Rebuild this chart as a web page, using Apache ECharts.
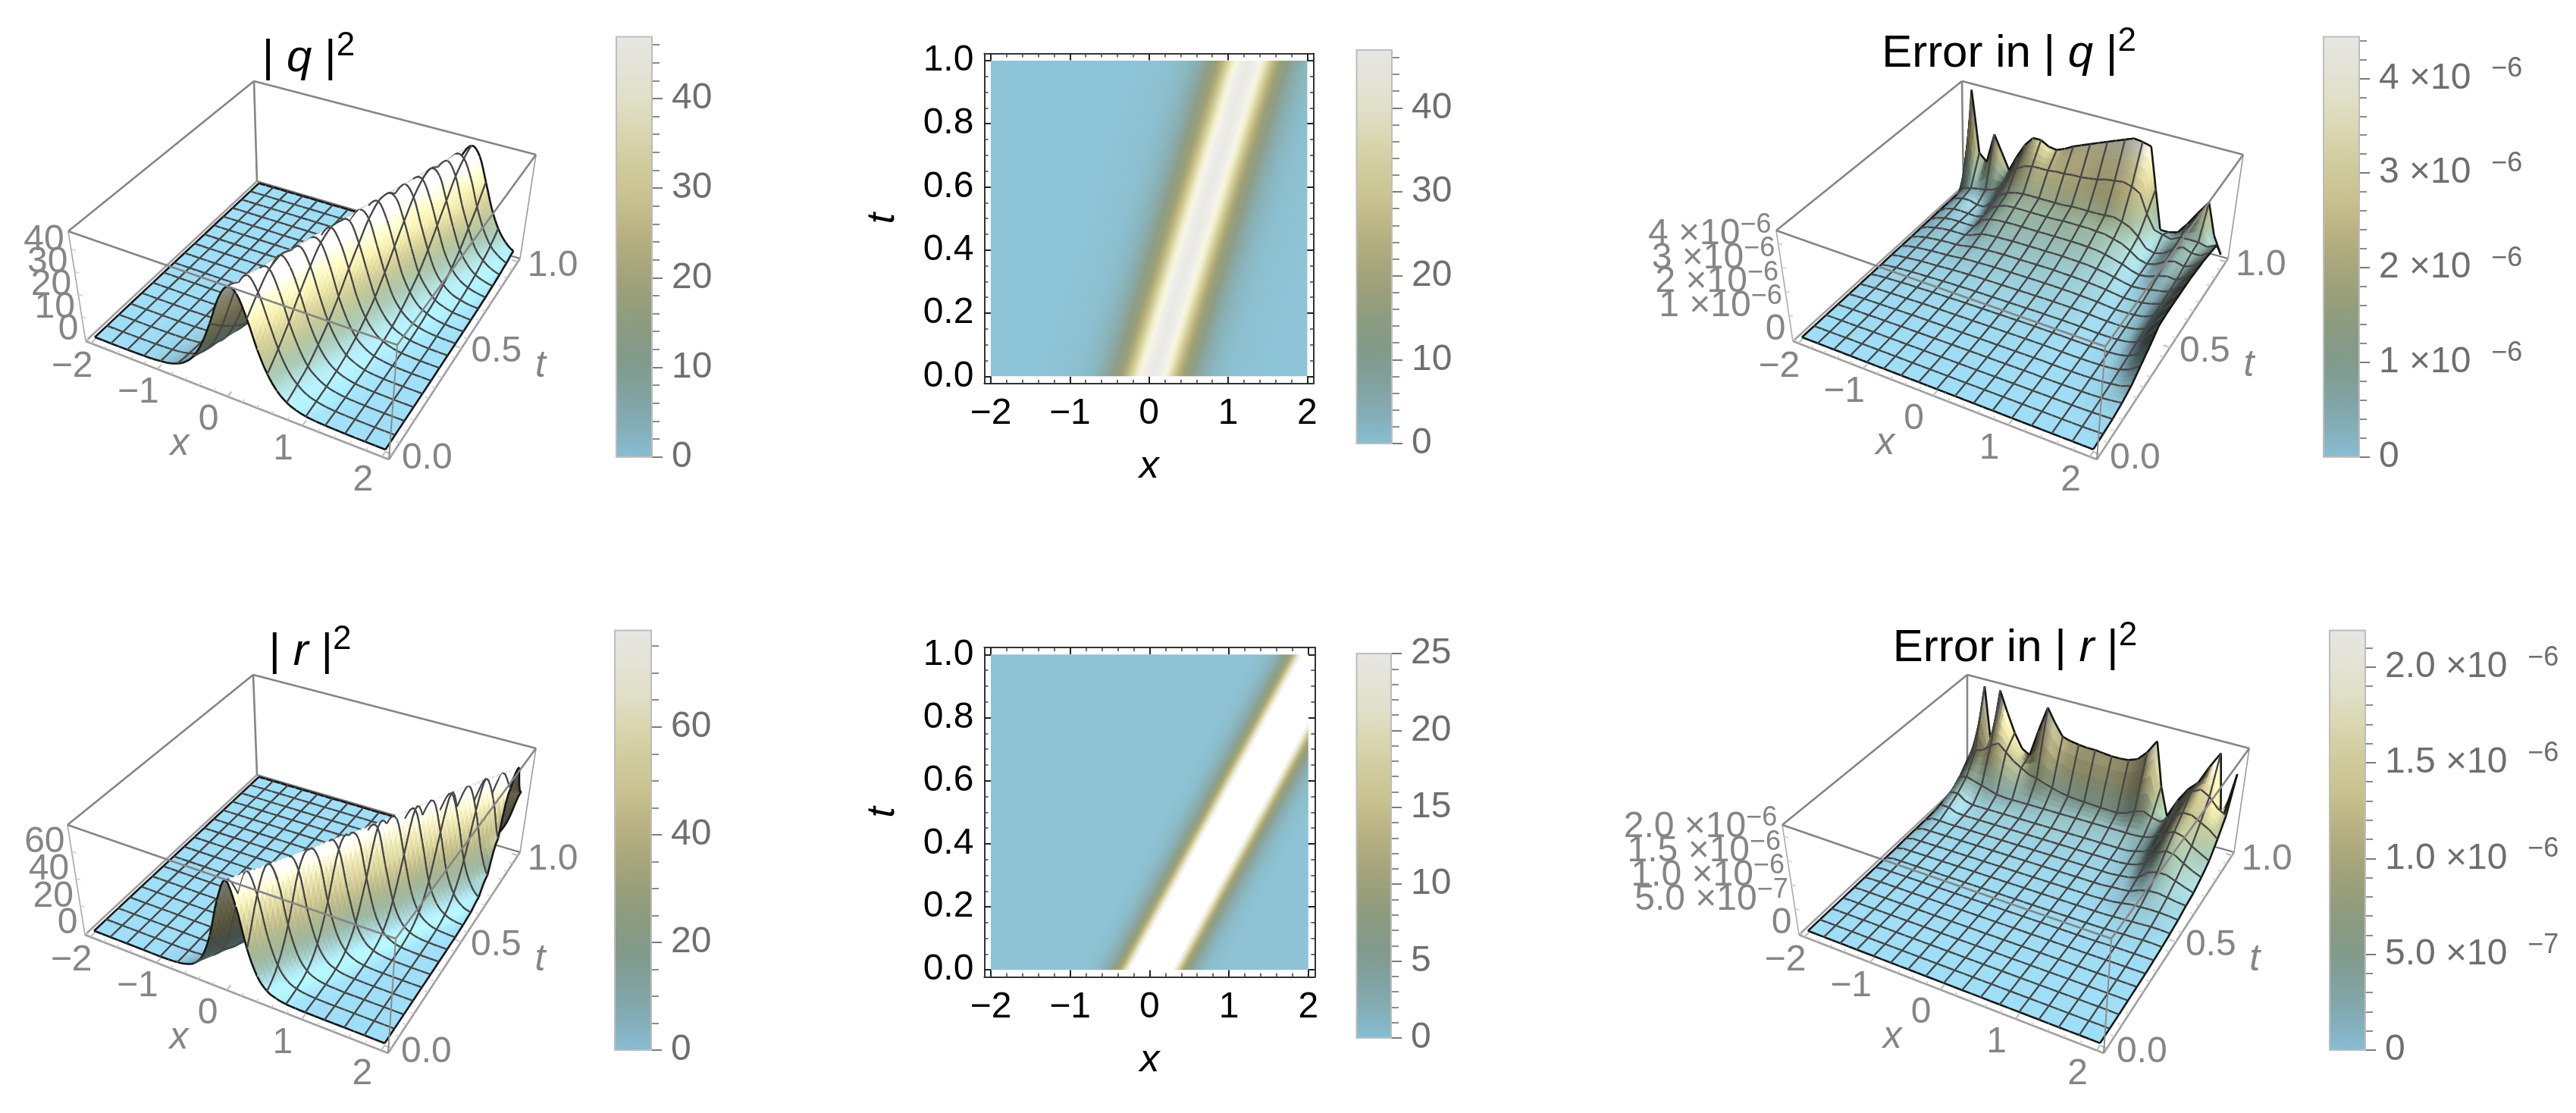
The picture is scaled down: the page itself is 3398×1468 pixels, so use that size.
<!DOCTYPE html>
<html>
<head>
<meta charset="utf-8">
<title>Soliton solutions and errors</title>
<script src="https://cdn.jsdelivr.net/npm/echarts@6/dist/echarts.min.js"></script>
<style>
  html, body { margin: 0; padding: 0; background: #fff; }
  #chart { width: 3398px; height: 1468px; }
</style>
</head>
<body>
<div id="chart"></div>
<script>
// sample positions of the surfaces
const xGrid = [-2,-1.875,-1.75,-1.625,-1.5,-1.375,-1.25,-1.125,-1,-.875,-.75,-.625,-.5,-.375,-.25,-.125,0,.125,.25,.375,.5,.625,.75,.875,1,1.125,1.25,1.375,1.5,1.625,1.75,1.875,2];
const tGrid = [0,.0625,.125,.1875,.25,.3125,.375,.4375,.5,.5625,.625,.6875,.75,.8125,.875,.9375,1];

// |q|^2, one row per t
const qSurface = [
  [0,0,0,0,.04,.1,.2,.35,.7,1.3,2.6,4.9,9,16,26,38,45,43.5,34,22,13,7.2,3.8,2,1,.55,.3,.18,.08,0,0,0,0],
  [0,0,0,0,0,.07,.13,.27,.47,.85,1.7,3.3,6.2,11.4,19.7,31,41.6,46,40,29,18.3,10.5,5.8,3,1.6,.8,.42,.24,.13,.06,0,0,0],
  [0,0,0,0,0,0,.09,.17,.32,.6,1.1,2.2,4.3,7.8,14.3,23.7,35.6,44,45,36.5,24.5,15,8.1,4.5,2.3,1.2,.62,.34,.19,.09,.03,0,0],
  [0,0,0,0,0,0,.05,.11,.22,.42,.75,1.5,2.9,5.6,10,17.8,28,39.5,46,42,32,20.5,12,6.5,3.4,1.8,.9,.48,.27,.15,.07,.02,0],
  [0,0,0,0,0,0,0,.07,.15,.28,.5,1,1.9,3.6,7,12.6,21.4,33,43,45.7,38.6,27,16.7,9.6,5,2.7,1.3,.7,.37,.21,.1,.05,0],
  [0,0,0,0,0,0,0,0,.1,.2,.37,.65,1.3,2.4,4.7,8.5,15.6,25.4,37,45,44,34.8,22.8,13.7,7.4,4,2,1.1,.56,.3,.16,.08,.02],
  [0,0,0,0,0,0,0,0,.06,.14,.25,.46,.8,1.7,3.1,6.1,10.9,19.4,30,41.2,46,40.5,30,18.6,10.9,5.9,3.1,1.6,.8,.45,.25,.13,.06],
  [0,0,0,0,0,0,0,0,0,.08,.17,.3,.6,1.1,2.2,4,7.9,13.7,23.6,34.8,44,45,36.5,25.4,15,8.5,4.5,2.4,1.2,.65,.34,.2,.09],
  [0,0,0,0,0,0,0,0,0,0,.11,.21,.4,.7,1.4,2.7,5.2,9.5,17,27,39,45.7,42.8,32,21,12,6.7,3.4,1.8,.9,.5,.26,.15],
  [0,0,0,0,0,0,0,0,0,0,0,.15,.26,.5,.9,1.8,3.4,6.7,12,21,32,42.8,46,39,28,17,9.9,5.2,2.9,1.4,.75,.4,.22],
  [0,0,0,0,0,0,0,0,0,0,0,0,.2,.34,.65,1.2,2.4,4.5,8.5,15,25.4,36.5,45,44,34.8,23.6,13.7,7.9,4,2.2,1.1,.6,.3],
  [0,0,0,0,0,0,0,0,0,0,0,0,0,.25,.45,.8,1.6,3.1,5.9,10.9,18.6,30,40.5,46,41.2,30,19.4,10.9,6.1,3.1,1.7,.8,.46],
  [0,0,0,0,0,0,0,0,0,0,0,0,0,0,.3,.56,1.1,2,4,7.4,13.4,22.8,34.8,44,45,37,26,15.6,8.8,4.7,2.5,1.3,.65],
  [0,0,0,0,0,0,0,0,0,0,0,0,0,0,0,.36,.7,1.3,2.7,5,9.5,16.5,27,38,45.7,43.5,33,22,12.6,7,3.6,1.9,1],
  [0,0,0,0,0,0,0,0,0,0,0,0,0,0,0,.26,.47,.9,1.8,3.4,6.4,12,20,32,42,46,40,28,18,9.9,5.6,2.9,1.5],
  [0,0,0,0,0,0,0,0,0,0,0,0,0,0,0,0,.34,.62,1.2,2.3,4.5,8.1,15,24.5,36.5,45,44,35.6,23.7,14.3,7.8,4.3,2.2],
  [0,0,0,0,0,0,0,0,0,0,0,0,0,0,0,0,.24,.45,.8,1.6,3,5.8,10.5,18,29,40,46,42,31,19.7,11.4,6.2,3.3]
];

// |r|^2
const rSurface = [
  [0,0,0,0,0,0,0,0,0,.2,.6,1.9,4.8,12.6,30,58,75,58,30,12.6,4.8,1.9,.6,.2,0,0,0,0,0,0,0,0,0],
  [0,0,0,0,0,0,0,0,0,0,.2,.5,1.6,4.4,11.6,28,56,75,60,32,14,5.3,2,.7,.2,0,0,0,0,0,0,0,0],
  [0,0,0,0,0,0,0,0,0,0,0,.15,.5,1.4,4,11,26,53,74,63,34,14.6,5.6,2.1,.7,.25,0,0,0,0,0,0,0],
  [0,0,0,0,0,0,0,0,0,0,0,0,.15,.45,1.3,3.6,10,24,50,73,65,36,16,6,2.4,.8,.3,.1,0,0,0,0,0],
  [0,0,0,0,0,0,0,0,0,0,0,0,0,.15,.4,1.2,3.4,9,23,48,72,67,38,17,6.6,2.5,.85,.3,.1,0,0,0,0],
  [0,0,0,0,0,0,0,0,0,0,0,0,0,0,.15,.4,1.1,3.1,8.4,21.5,45,72,68,41,18.5,7.2,2.7,.95,.35,.12,0,0,0],
  [0,0,0,0,0,0,0,0,0,0,0,0,0,0,0,.12,.35,1,2.9,7.6,20,43,70,70,43,20,7.8,2.9,1,.37,.12,0,0],
  [0,0,0,0,0,0,0,0,0,0,0,0,0,0,0,0,.12,.33,.9,2.6,7,18,40,68,72,46,22,8.6,3.2,1.1,.4,.13,.05],
  [0,0,0,0,0,0,0,0,0,0,0,0,0,0,0,0,0,.1,.28,.8,2.4,6.5,17,38,67,73,48,23,9.3,3.5,1.2,.42,.15],
  [0,0,0,0,0,0,0,0,0,0,0,0,0,0,0,0,0,0,.1,.25,.75,2.2,6,15.6,36,65,74,51,24,10,3.8,1.3,.48],
  [0,0,0,0,0,0,0,0,0,0,0,0,0,0,0,0,0,0,0,.1,.22,.7,2,5.6,14.4,34,62,75,53,26,11,4,1.5],
  [0,0,0,0,0,0,0,0,0,0,0,0,0,0,0,0,0,0,0,0,.1,.2,.65,1.9,5.1,13,31,60,75,56,28,12,4.5],
  [0,0,0,0,0,0,0,0,0,0,0,0,0,0,0,0,0,0,0,0,0,.1,.18,.6,1.7,4.7,12.4,30,57,75,58,30,13],
  [0,0,0,0,0,0,0,0,0,0,0,0,0,0,0,0,0,0,0,0,0,0,.1,.16,.55,1.5,4.3,11.5,28,55,75,61,33],
  [0,0,0,0,0,0,0,0,0,0,0,0,0,0,0,0,0,0,0,0,0,0,0,.1,.15,.5,1.4,4,10.7,26,52,74,64],
  [0,0,0,0,0,0,0,0,0,0,0,0,0,0,0,0,0,0,0,0,0,0,0,0,.05,.14,.45,1.3,3.6,9.8,24,50,73],
  [0,0,0,0,0,0,0,0,0,0,0,0,0,0,0,0,0,0,0,0,0,0,0,0,0,.05,.13,.4,1.2,3.3,9,22,47]
];

// how far the ridge moves in x from one row to the next
const qRidgeStep = .07625;
const rRidgeStep = .1356;

// error in |q|^2, in units of 1e-6
const qError = [
  [0,0,0,0,0,0,0,0,0,0,0,0,0,0,0,0,0,0,0,0,0,0,0,0,0,0,0,0,0,0,0,0,0],
  [0,0,0,0,.01,.01,.01,.01,.01,.01,.01,.01,.01,.01,.01,.01,.01,.01,.01,.01,.01,.01,.01,.01,.01,.01,.01,.01,.01,.01,.01,.02,.03],
  [0,.01,.01,.01,.01,.02,.02,.02,.02,.02,.02,.02,.02,.02,.02,.02,.02,.02,.02,.02,.02,.02,.02,.02,.02,.02,.02,.02,.02,.02,.03,.04,.06],
  [0,.01,.02,.02,.02,.03,.03,.03,.04,.04,.04,.04,.04,.04,.04,.04,.04,.04,.04,.04,.04,.04,.04,.04,.03,.03,.03,.03,.03,.04,.06,.1,.15],
  [0,.02,.03,.03,.04,.04,.05,.05,.06,.06,.06,.06,.06,.06,.06,.06,.06,.06,.06,.06,.06,.06,.06,.06,.05,.04,.04,.04,.05,.06,.1,.15,.3],
  [0,.03,.04,.05,.06,.07,.07,.08,.09,.09,.09,.09,.09,.09,.09,.09,.09,.09,.09,.09,.09,.09,.09,.08,.07,.06,.06,.06,.07,.09,.15,.3,.6],
  [0,.04,.06,.07,.09,.1,.1,.11,.12,.12,.12,.13,.13,.13,.13,.13,.13,.13,.13,.13,.13,.12,.12,.11,.1,.09,.08,.08,.09,.12,.2,.45,.9],
  [0,.05,.08,.1,.12,.13,.14,.15,.16,.17,.17,.18,.18,.18,.18,.18,.18,.18,.18,.18,.18,.17,.17,.16,.15,.13,.11,.11,.12,.16,.27,.7,1.25],
  [.01,.07,.1,.13,.16,.17,.18,.2,.22,.23,.24,.25,.25,.25,.25,.25,.25,.25,.25,.25,.25,.24,.23,.22,.2,.17,.15,.14,.15,.2,.35,.8,1.3],
  [.01,.09,.14,.17,.2,.22,.23,.26,.3,.32,.33,.34,.35,.35,.35,.35,.35,.35,.35,.34,.33,.32,.3,.28,.26,.22,.18,.18,.2,.25,.42,.85,1.3],
  [.01,.12,.18,.22,.25,.27,.28,.32,.4,.43,.45,.47,.48,.48,.48,.48,.48,.48,.48,.46,.45,.43,.4,.37,.33,.27,.22,.22,.25,.32,.45,.85,1.3],
  [.02,.15,.22,.27,.3,.3,.3,.4,.55,.6,.62,.63,.65,.65,.65,.65,.65,.65,.65,.63,.62,.6,.55,.5,.42,.33,.26,.28,.35,.42,.5,.85,1.3],
  [.02,.18,.26,.3,.3,.28,.3,.65,.8,.85,.87,.88,.88,.88,.88,.88,.88,.88,.88,.87,.85,.82,.75,.65,.55,.4,.3,.35,.5,.6,.55,.85,1.25],
  [.03,.22,.3,.3,.28,.25,.35,.8,1,1.1,1.12,1.12,1.12,1.12,1.12,1.12,1.15,1.15,1.15,1.15,1.12,1.1,1,.9,.7,.45,.35,.45,.7,.8,.7,.85,1.2],
  [.03,.3,.4,.4,.3,.3,.6,1,1.2,1.3,1.35,1.35,1.35,1.35,1.35,1.35,1.4,1.4,1.4,1.4,1.42,1.45,1.35,1.2,.9,.5,.4,.5,.8,1,.85,.85,1.1],
  [.03,.4,.5,.55,.6,.7,.9,1.5,1.9,2.1,2.2,2.2,2.2,2.25,2.25,2.3,2.3,2.35,2.4,2.5,2.55,2.6,2.5,2.3,1.5,.9,.8,.7,.9,.9,.9,.8,1],
  [.05,4.4,1.7,1.4,2.7,2,1.3,2,2.6,3,3,2.8,2.75,2.9,3.1,3.25,3.4,3.55,3.7,3.85,4,4.15,4.1,4,2.2,.5,.5,.6,1.1,1.7,2.25,.9,.15]
];

// error in |r|^2, in units of 1e-6
const rError = [
  [0,0,0,0,0,0,0,0,0,0,0,0,0,0,0,0,0,0,0,0,0,0,0,0,0,0,0,0,0,0,0,0,0],
  [0,0,0,0,0,0,0,0,0,0,0,0,0,0,0,0,0,0,0,0,0,0,0,0,0,0,0,0,0,0,0,0,0],
  [0,.005,.005,.005,.005,.005,.005,.005,.005,.005,.005,.005,.005,.005,.005,.005,.005,.005,.005,.005,.005,.005,.005,.005,.005,.005,.005,.005,.005,.005,.005,.005,0],
  [0,.005,.005,.005,.005,.005,.005,.005,.005,.005,.005,.005,.005,.005,.005,.005,.005,.005,.005,.005,.005,.005,.005,.005,.005,.005,.005,.005,.005,.005,.005,.005,.005],
  [0,.01,.01,.01,.01,.01,.01,.01,.01,.01,.01,.01,.01,.01,.01,.01,.01,.01,.01,.01,.01,.01,.01,.01,.01,.01,.01,.01,.01,.01,.01,.01,.01],
  [0,.01,.015,.015,.015,.015,.015,.015,.015,.015,.015,.015,.015,.015,.015,.015,.015,.015,.015,.015,.015,.015,.015,.015,.015,.015,.015,.015,.015,.015,.015,.015,.015],
  [0,.02,.02,.02,.02,.02,.02,.02,.02,.02,.02,.02,.02,.02,.02,.02,.02,.02,.02,.02,.02,.02,.02,.02,.02,.02,.02,.025,.03,.03,.03,.03,.03],
  [0,.03,.03,.03,.03,.03,.03,.03,.03,.03,.03,.03,.03,.03,.03,.03,.03,.03,.03,.03,.03,.03,.03,.03,.03,.03,.035,.04,.05,.05,.06,.06,.05],
  [0,.04,.04,.04,.04,.04,.04,.04,.04,.04,.04,.04,.04,.04,.04,.04,.04,.04,.04,.04,.04,.04,.04,.04,.04,.04,.05,.06,.07,.08,.09,.09,.08],
  [.01,.05,.05,.05,.05,.05,.05,.05,.05,.05,.05,.05,.05,.05,.05,.05,.05,.05,.05,.05,.05,.05,.05,.05,.06,.07,.1,.13,.14,.15,.15,.14,.12],
  [.01,.07,.07,.07,.07,.07,.07,.07,.07,.07,.07,.07,.07,.07,.07,.07,.07,.07,.07,.07,.07,.07,.07,.07,.09,.1,.12,.2,.25,.26,.23,.2,.18],
  [.01,.1,.1,.09,.09,.09,.09,.09,.09,.09,.09,.09,.09,.09,.09,.09,.09,.09,.09,.09,.09,.09,.09,.09,.11,.13,.18,.35,.42,.42,.35,.28,.22],
  [.02,.2,.2,.13,.12,.12,.12,.12,.12,.12,.12,.12,.12,.12,.12,.12,.12,.12,.12,.12,.12,.12,.12,.12,.14,.18,.28,.55,.65,.62,.5,.4,.32],
  [.05,.3,.32,.2,.16,.16,.16,.16,.16,.16,.16,.16,.16,.16,.16,.16,.16,.16,.16,.16,.16,.16,.16,.16,.2,.25,.4,.75,.85,.8,.65,.55,.45],
  [.08,.45,.5,.45,.4,.35,.3,.28,.28,.28,.28,.28,.28,.28,.28,.28,.28,.28,.28,.28,.28,.28,.28,.28,.3,.35,.5,.9,1.05,1.05,.95,.85,.7],
  [.1,.7,.9,.96,1.1,1.2,1.05,.9,.8,.7,.66,.6,.55,.5,.47,.45,.44,.43,.42,.41,.41,.45,.55,.6,.52,.48,.6,1,1.3,1.4,1.3,1.1,1],
  [.05,.9,2.15,.8,2.15,1.7,1.3,1,.9,1.5,2.05,1.75,1.5,1.45,1.42,1.4,1.4,1.38,1.36,1.36,1.38,1.45,1.65,1.95,1,.4,.8,1.1,1.3,1.7,2.05,.55,1.7]
];

// density plots: value against distance from the ridge centre
const qHeatOffsets = [-1.6,-1.3,-1,-.9,-.8,-.7,-.6,-.55,-.5,-.45,-.4,-.35,-.3,-.25,-.2,-.15,-.1,-.05,0,.05,.1,.15,.2,.25,.3,.35,.4,.45,.5,.55,.6,.7,.8,.9,1,1.3,1.6];
const qHeatValues = [0,.2,.8,1.4,2.4,4,6.7,8.5,10.9,13.7,17,21,25.4,30,34.8,39,42.8,45,46,45,42.8,39,34.8,30,25.4,21,17,13.7,10.9,8.5,6.7,4,2.4,1.4,.8,.2,0];
const qHeatCentre = [.04, 1.26]; // ridge centre at t = 0 and t = 1
const rHeatOffsets = [-1,-.9,-.75,-.7,-.65,-.6,-.55,-.5,-.45,-.4,-.35,-.3,-.285,-.28,.28,.285,.3,.35,.4,.45,.5,.55,.6,.65,.7,.75,.9,1];
const rHeatValues = [.1,.15,.6,.9,1.4,2.2,3.2,4.8,7,10.5,15,22,25,26,26,25,22,15,10.5,7,4.8,3.2,2.2,1.4,.9,.6,.15,.1];
const rHeatCentre = [.02, 2.19];

// colour scales, low to high
const barColors = ['#88bed3','#83adb6','#81a29f','#819a8b','#8a9b80','#9a9f7a','#a9a77c','#b9b383','#c8c290','#d0cb9c','#d9d6af','#e0dfc7','#e4e3d6','#e6e6e4'];
const heatColors = ['#8dc4d7','#89b3ba','#8aa7a0','#8c9d88','#94a07e','#9f9f70','#b1ad7c','#c3bd85','#d4cf9a','#e6e2b8','#f4f2d4','#f8f7e6','#efeeea','#e7e7e5'];

// tick values
const xTicks = [-2,-1,0,1,2];
const tTicks3d = [0,.5,1];
const tTicksHeat = [0,.2,.4,.6,.8,1];
const xMinorTicks = [-1.8,-1.6,-1.4,-1.2,-.8,-.6,-.4,-.2,.2,.4,.6,.8,1.2,1.4,1.6,1.8];
const tMinorTicks = [.05,.1,.15,.25,.3,.35,.45,.5,.55,.65,.7,.75,.85,.9,.95];
const qTicks = [0,10,20,30,40];
const qMinor = [2,4,6,8,12,14,16,18,22,24,26,28,32,34,36,38,42,44,46];
const rTicks = [0,20,40,60];
const rMinor = [5,10,15,25,30,35,45,50,55,65,70,75];
const qHeatTicks = [0,10,20,30,40];
const rHeatTicks = [0,5,10,15,20,25];
const rHeatMinor = [1,2,3,4,6,7,8,9,11,12,13,14,16,17,18,19,21,22,23,24];
const qErrTicks = [0,1,2,3,4];
const qErrMinor = [.2,.4,.6,.8,1.2,1.4,1.6,1.8,2.2,2.4,2.6,2.8,3.2,3.4,3.6,3.8,4.2,4.4];
const rErrTicks = [0,.5,1,1.5,2];
const rErrMinor = [.1,.2,.3,.4,.6,.7,.8,.9,1.1,1.2,1.3,1.4,1.6,1.7,1.8,1.9,2.1];
const qErrText = ['0','1 ×10','2 ×10','3 ×10','4 ×10'];
const qErrExp = ['','−6','−6','−6','−6'];
const rErrText = ['0','5.0 ×10','1.0 ×10','1.5 ×10','2.0 ×10'];
const rErrExp = ['','−7','−6','−6','−6'];

const FONT = '"Liberation Sans", Arial, sans-serif';
const GREY = '#858585';
const LABEL_GREY = '#6e6e6e';

function plainLabel(v) {
  return String(v);
}
function errRich(text, exp, gap) {
  return exp ? '{b|' + text + '}' + gap + '{e|' + exp + '}' : '{b|' + text + '}';
}
const supRich = {
  b: { fontSize: 48, fontFamily: FONT, lineHeight: 60 },
  e: { fontSize: 36, fontFamily: FONT, lineHeight: 60, verticalAlign: 'top', padding: [0, 0, 22, 0] }
};
const qErrLabel = gap => v => errRich(qErrText[qErrTicks.indexOf(v)], qErrExp[qErrTicks.indexOf(v)], gap);
const rErrLabel = gap => v => errRich(rErrText[rErrTicks.indexOf(v)], rErrExp[rErrTicks.indexOf(v)], gap);

// panel layout: floor and top corners of the 3D box, as
// (x=-2,t=0) (x=2,t=0) (x=2,t=1) (x=-2,t=1)
const panels3d = [
  { data: qSurface, zMax: 46.9, ticks: qTicks, label: plainLabel, ridgeStep: qRidgeStep, fillLight: .6,
    floor: [[113,450],[513,606],[686,341],[339,239]], top: [[90,305],[524,455],[707,204],[335,107]] },
  { data: rSurface, zMax: 77.9, ticks: rTicks, label: plainLabel, ridgeStep: rRidgeStep, fillLight: .6,
    floor: [[112,1233],[512,1389],[686,1124],[339,1022]], top: [[89,1088],[522,1238],[707,987],[334,890]] },
  { data: qError, zMax: 4.44, ticks: qErrTicks, label: qErrLabel(''), ridgeStep: 0, fillLight: 0,
    floor: [[2365,450],[2766,606],[2939,341],[2590,245]], top: [[2343,304],[2777,457],[2959,204],[2588,107]] },
  { data: rError, zMax: 2.19, ticks: rErrTicks, label: rErrLabel(''), ridgeStep: 0, fillLight: 0,
    floor: [[2373,1233],[2775,1389],[2947,1124],[2595,1025]], top: [[2351,1088],[2785,1238],[2967,987],[2595,890]] }
];

// unit square to quad, keeps the perspective of the box
function squareToQuad(q) {
  const [[x0,y0],[x1,y1],[x2,y2],[x3,y3]] = q;
  const dx1 = x1 - x2, dx2 = x3 - x2, sx = x0 - x1 + x2 - x3;
  const dy1 = y1 - y2, dy2 = y3 - y2, sy = y0 - y1 + y2 - y3;
  const den = dx1 * dy2 - dx2 * dy1;
  const g = (sx * dy2 - dx2 * sy) / den;
  const h = (dx1 * sy - sx * dy1) / den;
  const a = x1 - x0 + g * x1, b = x3 - x0 + h * x3;
  const d = y1 - y0 + g * y1, e = y3 - y0 + h * y3;
  return (u, v) => {
    const w = g * u + h * v + 1;
    return [(a * u + b * v + x0) / w, (d * u + e * v + y0) / w];
  };
}

function hexToRgb(hex) {
  return [1, 3, 5].map(i => parseInt(hex.substr(i, 2), 16));
}
function rampRgb(colors, f) {
  const p = Math.max(0, Math.min(1, f)) * (colors.length - 1);
  const i = Math.min(colors.length - 2, Math.floor(p));
  const c0 = hexToRgb(colors[i]), c1 = hexToRgb(colors[i + 1]);
  return c0.map((c, k) => c + (c1[k] - c) * (p - i));
}
function rgbText(c, factor) {
  const f = factor === undefined ? 1 : factor;
  return 'rgb(' + c.map(v => Math.min(255, Math.round(v * f))).join(',') + ')';
}

const LIGHT = [.62, -.12, .77];
const BACK_LIGHT = [-.7, -.55, .45];
const AMBIENT = .36, DIFFUSE = 1.05;

function setupPanel(panel) {
  const floorMap = squareToQuad(panel.floor);
  const topMap = squareToQuad(panel.top);
  const rows = tGrid.length, cols = xGrid.length, d = panel.data;
  const xStep = xGrid[1] - xGrid[0], tStep = tGrid[1] - tGrid[0];
  panel.boxPoint = (u, v, w) => {
    const a = floorMap(u, v), b = topMap(u, v);
    return [a[0] + (b[0] - a[0]) * w, a[1] + (b[1] - a[1]) * w];
  };
  panel.project = (x, t, z) => panel.boxPoint((x + 2) / 4 * .96 + .02, t * .96 + .02, z / panel.zMax * .96 + .02);
  // value along one row: soft curve for the ridges, straight pieces for the error tables
  const rowValue = (i, x) => {
    const p = Math.max(0, Math.min(cols - 1, (x + 2) / xStep));
    const j = Math.min(cols - 2, Math.floor(p)), s = p - j;
    const r = d[i];
    if (!panel.ridgeStep) return r[j] * (1 - s) + r[j + 1] * s;
    const a = r[Math.max(0, j - 1)], b = r[j], c = r[j + 1], e = r[Math.min(cols - 1, j + 2)];
    const v = b + .5 * s * (c - a + s * (2 * a - 5 * b + 4 * c - e + s * (3 * (b - c) + e - a)));
    return Math.max(0, v);
  };
  // between rows the surface follows the ridge instead of the grid
  panel.zAt = (x, i, r) => {
    const step = panel.ridgeStep;
    return rowValue(i, x - r * step) * (1 - r) + rowValue(i + 1, x + (1 - r) * step) * r;
  };
  const nodeNormals = d.map((row, i) => row.map((z, j) => {
    const jl = Math.max(0, j - 1), jr = Math.min(cols - 1, j + 1);
    const il = Math.max(0, i - 1), ir = Math.min(rows - 1, i + 1);
    const zx = (d[i][jr] - d[i][jl]) / panel.zMax * .4 / ((xGrid[jr] - xGrid[jl]) / 4);
    const zt = (d[ir][j] - d[il][j]) / panel.zMax * .4 / (tGrid[ir] - tGrid[il]);
    return [-zx, -zt];
  }));
  panel.normalAt = (j, i, s, r) => {
    if (panel.ridgeStep) {
      const x = xGrid[j] + s * xStep;
      const h = .02, dr = .12;
      const zx = (panel.zAt(x + h, i, r) - panel.zAt(x - h, i, r)) / (2 * h);
      const zt = (panel.zAt(x, i, Math.min(1, r + dr)) - panel.zAt(x, i, Math.max(0, r - dr))) / ((Math.min(1, r + dr) - Math.max(0, r - dr)) * tStep);
      return [-zx / panel.zMax * .4 * 4, -zt / panel.zMax * .4];
    }
    const a = nodeNormals[i][j], b = nodeNormals[i][j + 1], c = nodeNormals[i + 1][j], e = nodeNormals[i + 1][j + 1];
    return [0, 1].map(k => (a[k] * (1 - s) + b[k] * s) * (1 - r) + (c[k] * (1 - s) + e[k] * s) * r);
  };
}
panels3d.forEach(setupPanel);

function cellRender(panel) {
  const d = panel.data;
  return function (params, api) {
    const j = api.value(0), i = api.value(1);
    const x0 = xGrid[j], x1 = xGrid[j + 1], t0 = tGrid[i], t1 = tGrid[i + 1];
    const flat = Math.max(d[i][j], d[i][j + 1], d[i + 1][j], d[i + 1][j + 1]) - Math.min(d[i][j], d[i][j + 1], d[i + 1][j], d[i + 1][j + 1]) < panel.zMax * .002;
    const n = flat ? 1 : 4;
    const pt = (s, r) => {
      const x = x0 + (x1 - x0) * s;
      return api.coord(panel.project(x, t0 + (t1 - t0) * r, panel.zAt(x, i, r)));
    };
    const children = [];
    // far side first, so nearer pieces paint over
    for (let a = n - 1; a >= 0; a--) {
      for (let b = 0; b < n; b++) {
        const s = (b + .5) / n, r = (a + .5) / n;
        const z = panel.zAt(x0 + (x1 - x0) * s, i, r);
        const nv = panel.normalAt(j, i, s, r);
        const len = Math.sqrt(nv[0] * nv[0] + nv[1] * nv[1] + 1);
        const dot = (nv[0] * LIGHT[0] + nv[1] * LIGHT[1] + LIGHT[2]) / len;
        const back = (nv[0] * BACK_LIGHT[0] + nv[1] * BACK_LIGHT[1] + BACK_LIGHT[2]) / len;
        const level = AMBIENT + DIFFUSE * Math.max(0, dot) + panel.fillLight * Math.max(0, back - .45 * Math.max(0, dot) - .2);
        const fill = rgbText(rampRgb(barColors, z / panel.zMax), level);
        children.push({
          type: 'polygon', silent: true,
          shape: { points: [pt(b / n, a / n), pt((b + 1) / n, a / n), pt((b + 1) / n, (a + 1) / n), pt(b / n, (a + 1) / n)] },
          style: { fill: fill, stroke: fill, lineWidth: 1 }
        });
      }
    }
    const edge = (points, outer) => {
      children.push({
        type: 'polyline', silent: true, shape: { points: points },
        style: { fill: null, stroke: outer ? '#161616' : '#474747', lineWidth: outer ? 2.6 : 2.2 }
      });
    };
    const along = (fn) => { const pts = []; for (let k = 0; k <= n; k++) pts.push(fn(k / n)); return pts; };
    edge(along(k => pt(k, 1)), i === tGrid.length - 2);
    edge(along(k => pt(k, 0)), i === 0);
    if (j % 2 === 0) edge(along(k => pt(0, k)), j === 0);
    if ((j + 1) % 2 === 0) edge(along(k => pt(1, k)), j === xGrid.length - 2);
    return { type: 'group', children: children };
  };
}

function boxLine(panel, api, a, b, width, color) {
  return {
    type: 'line', silent: true,
    shape: { x1: api.coord(a)[0], y1: api.coord(a)[1], x2: api.coord(b)[0], y2: api.coord(b)[1] },
    style: { stroke: color || GREY, lineWidth: width || 2.6 }
  };
}

function backRender(panel) {
  return function (params, api) {
    const p = panel.boxPoint, kids = [];
    const seg = (a, b, w, c) => kids.push(boxLine(panel, api, p(a[0], a[1], a[2]), p(b[0], b[1], b[2]), w, c));
    seg([0,1,0],[0,1,1]);
    seg([0,0,1],[0,1,1]);
    seg([0,1,1],[1,1,1]);
    seg([0,1,0],[1,1,0], 2, '#777');
    seg([0,0,0],[0,1,0], 2.6, '#a0a0a0');
    seg([1,0,0],[1,1,0], 2.6, '#a0a0a0');
    seg([0,0,0],[1,0,0], 2.6, '#a0a0a0');
    seg([0,0,0],[0,0,1], 1.6, '#aaa');
    seg([1,1,0],[1,1,1], 1.6, '#999');
    // ticks along the floor and the height edge
    const u = x => (x + 2) / 4 * .96 + .02, v = t => t * .96 + .02;
    xTicks.forEach(x => seg([u(x),0,0],[u(x),.022,0], 2, '#bbb'));
    xMinorTicks.forEach(x => seg([u(x),0,0],[u(x),.012,0], 1.5, '#ccc'));
    tTicks3d.forEach(t => seg([1,v(t),0],[.98,v(t),0], 2, '#bbb'));
    tMinorTicks.forEach(t => seg([1,v(t),0],[.988,v(t),0], 1.5, '#ccc'));
    panel.ticks.forEach(z => { const w = z / panel.zMax * .96 + .02; seg([0,0,w],[.016,0,w], 1.5, '#ccc'); });
    return { type: 'group', children: kids };
  };
}

function frontRender(panel) {
  return function (params, api) {
    const p = panel.boxPoint, kids = [];
    const seg = (a, b, w, c) => kids.push(boxLine(panel, api, p(a[0], a[1], a[2]), p(b[0], b[1], b[2]), w, c));
    seg([0,0,1],[1,0,1]);
    seg([1,0,1],[1,1,1]);
    seg([1,0,0],[1,0,1], 2, '#8c8c8c');
    const text = (s, x, y, align, extra) => {
      const c = api.coord([x, y]);
      kids.push({
        type: 'text', silent: true,
        style: Object.assign({ text: s, x: c[0], y: c[1], align: align, verticalAlign: 'middle',
          fill: GREY, fontSize: 48, fontFamily: FONT }, extra || {})
      });
    };
    xTicks.forEach(x => {
      const q = panel.boxPoint((x + 2) / 4 * .96 + .02, 0, 0);
      text(x < 0 ? '−' + Math.abs(x) : String(x), q[0] - 25, q[1] + 31, 'center');
    });
    tTicks3d.forEach(t => {
      const q = panel.boxPoint(1, t * .96 + .02, 0);
      text(t.toFixed(1), q[0] + 46, q[1] + 5, 'center');
    });
    panel.ticks.forEach(z => {
      const q = panel.boxPoint(0, 0, z / panel.zMax * .96 + .02);
      text(panel.label(z), q[0] - 9, q[1] - 12, 'right', { rich: supRich });
    });
    const mx = panel.boxPoint(.5, 0, 0), mt = panel.boxPoint(1, .5, 0);
    text('x', mx[0] - 63, mx[1] + 63, 'center', { fontStyle: 'italic', fontSize: 50 });
    text('t', mt[0] + 104, mt[1] + 24, 'center', { fontStyle: 'italic', fontSize: 50 });
    return { type: 'group', children: kids };
  };
}

const grids = [{ left: 0, top: 0, width: 3398, height: 1468 }];
const xAxes = [{ gridIndex: 0, type: 'value', min: 0, max: 3398, show: false }];
const yAxes = [{ gridIndex: 0, type: 'value', min: 0, max: 1468, inverse: true, show: false }];
const seriesList = [];

// 3D panels, drawn on a page-sized hidden scale
panels3d.forEach(panel => {
  const cells = [];
  for (let i = tGrid.length - 2; i >= 0; i--) {
    for (let j = 0; j < xGrid.length - 1; j++) cells.push([j, i]);
  }
  const common = { type: 'custom', coordinateSystem: 'cartesian2d', xAxisIndex: 0, yAxisIndex: 0, silent: true, animation: false, clip: false, progressive: 0 };
  seriesList.push(Object.assign({}, common, { data: [[0, 0]], renderItem: backRender(panel) }));
  seriesList.push(Object.assign({}, common, { data: cells, renderItem: cellRender(panel) }));
  seriesList.push(Object.assign({}, common, { data: [[0, 0]], renderItem: frontRender(panel) }));
});

// density plots
function addHeat(frame, centre, offsets, values, scaleMax) {
  const gridIndex = grids.length;
  grids.push({ left: frame.left, top: frame.top, width: frame.right - frame.left, height: frame.bottom - frame.top });
  const xr = [-2.082, 2.082], tr = [-.0225, 1.0225];
  const first = xAxes.length, firstY = yAxes.length;
  const tickStyle = (c, w) => ({ color: c, width: w });
  const frameLine = { show: true, onZero: false, lineStyle: { color: '#333', width: 2 } };
  const noLine = { show: false, onZero: false };
  const xBase = { gridIndex, type: 'value', min: xr[0], max: xr[1], splitLine: { show: false } };
  const yBase = { gridIndex, type: 'value', min: tr[0], max: tr[1], splitLine: { show: false } };
  xAxes.push(Object.assign({}, xBase, {
    position: 'bottom',
    axisLine: frameLine,
    axisTick: { inside: true, length: 9, lineStyle: tickStyle('#222', 2), customValues: xTicks },
    axisLabel: { customValues: xTicks, color: '#000', fontSize: 48, fontFamily: FONT, margin: 16,
      formatter: v => v < 0 ? '−' + Math.abs(v) : String(v) },
    name: 'x', nameLocation: 'middle', nameGap: 84,
    nameTextStyle: { color: '#000', fontSize: 52, fontStyle: 'italic', fontFamily: FONT }
  }));
  xAxes.push(Object.assign({}, xBase, {
    position: 'bottom', axisLine: noLine, axisLabel: { show: false },
    axisTick: { inside: true, length: 5, lineStyle: tickStyle('#444', 1.6), customValues: xMinorTicks }
  }));
  xAxes.push(Object.assign({}, xBase, {
    position: 'top', axisLine: frameLine, axisLabel: { show: false },
    axisTick: { inside: true, length: 9, lineStyle: tickStyle('#222', 2), customValues: xTicks }
  }));
  xAxes.push(Object.assign({}, xBase, {
    position: 'top', axisLine: noLine, axisLabel: { show: false },
    axisTick: { inside: true, length: 5, lineStyle: tickStyle('#444', 1.6), customValues: xMinorTicks }
  }));
  yAxes.push(Object.assign({}, yBase, {
    position: 'left',
    axisLine: frameLine,
    axisTick: { inside: true, length: 9, lineStyle: tickStyle('#222', 2), customValues: tTicksHeat },
    axisLabel: { customValues: tTicksHeat, color: '#000', fontSize: 48, fontFamily: FONT, margin: 14,
      formatter: v => v.toFixed(1) },
    name: 't', nameLocation: 'middle', nameGap: 108, nameRotate: 90,
    nameTextStyle: { color: '#000', fontSize: 52, fontStyle: 'italic', fontFamily: FONT }
  }));
  yAxes.push(Object.assign({}, yBase, {
    position: 'left', axisLine: noLine, axisLabel: { show: false },
    axisTick: { inside: true, length: 5, lineStyle: tickStyle('#444', 1.6), customValues: tMinorTicks }
  }));
  yAxes.push(Object.assign({}, yBase, {
    position: 'right', axisLine: frameLine, axisLabel: { show: false },
    axisTick: { inside: true, length: 9, lineStyle: tickStyle('#222', 2), customValues: tTicksHeat }
  }));
  yAxes.push(Object.assign({}, yBase, {
    position: 'right', axisLine: noLine, axisLabel: { show: false },
    axisTick: { inside: true, length: 5, lineStyle: tickStyle('#444', 1.6), customValues: tMinorTicks }
  }));
  seriesList.push({
    type: 'custom', coordinateSystem: 'cartesian2d', xAxisIndex: first, yAxisIndex: firstY,
    silent: true, animation: false, clip: false, data: [[0, 0]], z: 1,
    renderItem: function (params, api) {
      const p0 = api.coord([centre[0], 0]), p1 = api.coord([centre[1], 1]);
      const dx = p1[0] - p0[0], dy = p1[1] - p0[1], len = Math.hypot(dx, dy);
      const nx = -dy / len, ny = dx / len;
      const pxPerX = api.size([1, 0])[0];
      const sMin = offsets[0] * pxPerX * nx, sMax = offsets[offsets.length - 1] * pxPerX * nx;
      const span = offsets[offsets.length - 1] - offsets[0];
      const stops = offsets.map((d, i) => ({
        offset: (d - offsets[0]) / span,
        color: values[i] > scaleMax ? '#ffffff' : rgbText(rampRgb(heatColors, values[i] / scaleMax))
      }));
      return {
        type: 'polygon', silent: true,
        shape: { points: [api.coord([-2, 0]), api.coord([2, 0]), api.coord([2, 1]), api.coord([-2, 1])] },
        style: {
          fill: new echarts.graphic.LinearGradient(
            p0[0] + nx * sMin, p0[1] + ny * sMin, p0[0] + nx * sMax, p0[1] + ny * sMax, stops, true)
        }
      };
    }
  });
}
addHeat({ left: 1298.4, right: 1733, top: 70.6, bottom: 505.7 }, qHeatCentre, qHeatOffsets, qHeatValues, 46.9);
addHeat({ left: 1298.4, right: 1734.4, top: 854, bottom: 1288.6 }, rHeatCentre, rHeatOffsets, rHeatValues, 25);

// colour bars
function addBar(b) {
  const gridIndex = grids.length;
  grids.push({ left: b.left, top: b.top, width: b.right - b.left, height: b.bottom - b.top });
  const xIndex = xAxes.length, yIndex = yAxes.length;
  xAxes.push({ gridIndex, type: 'value', min: 0, max: 1, show: false });
  const base = { gridIndex, type: 'value', min: 0, max: b.max, position: 'right', splitLine: { show: false }, axisLine: { show: false, onZero: false } };
  yAxes.push(Object.assign({}, base, {
    axisTick: { length: 14, lineStyle: { color: '#7a7a7a', width: 2 }, customValues: b.ticks },
    axisLabel: { customValues: b.ticks, color: LABEL_GREY, fontSize: 48, fontFamily: FONT, margin: 26,
      formatter: b.label, rich: supRich }
  }));
  yAxes.push(Object.assign({}, base, {
    axisLabel: { show: false },
    axisTick: { length: 10, lineStyle: { color: '#8c8c8c', width: 2 }, customValues: b.minor }
  }));
  seriesList.push({
    type: 'custom', coordinateSystem: 'cartesian2d', xAxisIndex: xIndex, yAxisIndex: yIndex,
    silent: true, animation: false, clip: false, data: [[0, 0]],
    renderItem: function (params, api) {
      const a = api.coord([0, b.max]), c = api.coord([1, 0]);
      return {
        type: 'rect', silent: true,
        shape: { x: a[0], y: a[1], width: c[0] - a[0], height: c[1] - a[1] },
        style: {
          fill: new echarts.graphic.LinearGradient(0, 1, 0, 0,
            barColors.map((color, i) => ({ offset: i / (barColors.length - 1), color }))),
          stroke: '#bdbdbd', lineWidth: 2
        }
      };
    }
  });
}
addBar({ left: 813, right: 860, top: 48.4, bottom: 602.7, max: 46.9, ticks: qTicks, minor: qMinor, label: plainLabel });
addBar({ left: 1789.5, right: 1836, top: 66, bottom: 585, max: 46.9, ticks: qHeatTicks, minor: qMinor, label: plainLabel });
addBar({ left: 3065, right: 3112, top: 48.4, bottom: 602.7, max: 4.44, ticks: qErrTicks, minor: qErrMinor, label: qErrLabel('  ') });
addBar({ left: 811, right: 859, top: 831.6, bottom: 1385, max: 77.9, ticks: rTicks, minor: rMinor, label: plainLabel });
addBar({ left: 1789.5, right: 1835, top: 862, bottom: 1369, max: 25, ticks: rHeatTicks, minor: rHeatMinor, label: plainLabel });
addBar({ left: 3073, right: 3120, top: 831.6, bottom: 1385, max: 2.19, ticks: rErrTicks, minor: rErrMinor, label: rErrLabel('  ') });

const titleRich = {
  i: { fontSize: 60, fontStyle: 'italic', fontFamily: FONT, color: '#000' },
  s: { fontSize: 44, fontFamily: FONT, color: '#000', verticalAlign: 'top', padding: [0, 0, 32, 0] }
};
function panelTitle(text, cx, top) {
  return { text, left: cx, top, textAlign: 'center', textStyle: { color: '#000', fontSize: 60, fontWeight: 'normal', fontFamily: FONT, rich: titleRich } };
}

const chart = echarts.init(document.getElementById('chart'), null, { renderer: 'canvas' });
chart.setOption({
  animation: false,
  backgroundColor: '#fff',
  title: [
    panelTitle('|{i| q }|{s|2}', 402, 34),
    panelTitle('Error in |{i| q }|{s|2}', 2645, 28),
    panelTitle('|{i| r }|{s|2}', 404, 817),
    panelTitle('Error in |{i| r }|{s|2}', 2653, 812)
  ],
  grid: grids,
  xAxis: xAxes,
  yAxis: yAxes,
  series: seriesList
});
</script>
</body>
</html>
